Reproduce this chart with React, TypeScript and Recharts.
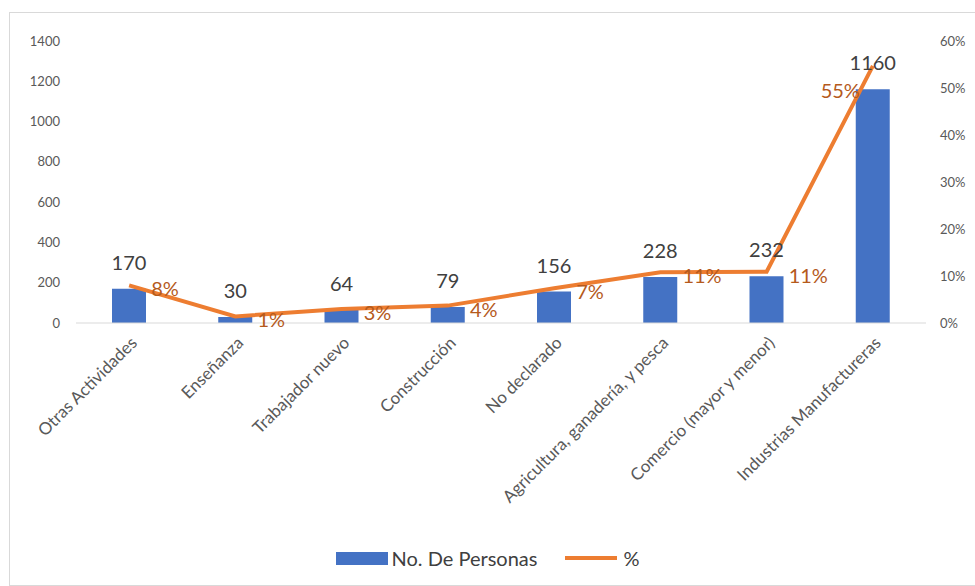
import { ComposedChart, Bar, Line, XAxis, YAxis, Legend, LabelList } from "recharts"

// sectores de actividad, personas y porcentaje
const categorias = [
  "Otras Actividades",
  "Enseñanza",
  "Trabajador nuevo",
  "Construcción",
  "No declarado",
  "Agricultura, ganadería, y pesca",
  "Comercio (mayor y menor)",
  "Industrias Manufactureras",
]
const personas = [170, 30, 64, 79, 156, 228, 232, 1160]
const porcentaje = [8.0, 1.4, 3.0, 3.7, 7.4, 10.8, 10.9, 54.7]
const pctEtiquetas = ["8%", "1%", "3%", "4%", "7%", "11%", "11%", "55%"]
const ticksIzq = [0, 200, 400, 600, 800, 1000, 1200, 1400]
const ticksDer = [0, 10, 20, 30, 40, 50, 60]

const data = categorias.map((c, i) => ({
  cat: c,
  personas: personas[i],
  pct: porcentaje[i],
  pctLabel: pctEtiquetas[i],
}))

const FONT = "Lato, 'Open Sans', sans-serif"
const AZUL = "#4472C4"
const NARANJA = "#ED7D31"

const TickX = ({ x, y, payload }: any) => (
  <text
    x={x + 9}
    y={y + 13}
    transform={`rotate(-45, ${x + 9}, ${y + 13})`}
    textAnchor="end"
    fontSize={17}
    fill="#595959"
    fontFamily={FONT}
  >
    {payload.value}
  </text>
)

const PctLabel = (props: any) => {
  const { x, y, index } = props
  const last = index === data.length - 1
  return (
    <text
      x={last ? x - 13 : x + 22}
      y={last ? y + 24 : y + 3}
      dominantBaseline="central"
      textAnchor={last ? "end" : "start"}
      fontSize={20}
      fill="#B55A1C"
      fontFamily={FONT}
    >
      {pctEtiquetas[index]}
    </text>
  )
}

const Leyenda = () => (
  <div
    style={{
      display: "flex",
      justifyContent: "center",
      alignItems: "center",
      fontFamily: FONT,
      fontSize: 20,
      color: "#404040",
    }}
  >
    <span style={{ display: "inline-block", width: 52, height: 13, background: AZUL, marginRight: 4 }} />
    <span>No. De Personas</span>
    <span style={{ display: "inline-block", width: 52, height: 4, background: NARANJA, marginLeft: 28, marginRight: 6 }} />
    <span>%</span>
  </div>
)

export default function App() {
  return (
    <div style={{ position: "absolute", left: 0, top: 0, width: 975, height: 586, background: "#fff" }}>
      <div
        style={{
          position: "absolute",
          left: 9,
          top: 12,
          width: 975,
          height: 572,
          border: "1px solid #D9D9D9",
        }}
      />
      <ComposedChart
        width={975}
        height={586}
        data={data}
        margin={{ top: 41, right: 0, bottom: 39, left: 0 }}
        style={{ position: "absolute", left: 0, top: 0 }}
      >
        <XAxis
          dataKey="cat"
          interval={0}
          height={200}
          tick={<TickX />}
          tickLine={false}
          axisLine={{ stroke: "#D9D9D9" }}
        />
        <YAxis
          yAxisId="left"
          width={76}
          domain={[0, 1400]}
          ticks={ticksIzq}
          tickLine={false}
          axisLine={false}
          tickSize={0}
          tickMargin={16}
          tick={{ fontSize: 13, fill: "#595959", fontFamily: FONT }}
        />
        <YAxis
          yAxisId="right"
          orientation="right"
          width={49}
          domain={[0, 60]}
          ticks={ticksDer}
          tickFormatter={(v: number) => `${v}%`}
          tickLine={false}
          axisLine={false}
          tickSize={0}
          tickMargin={14}
          tick={{ fontSize: 13, fill: "#595959", fontFamily: FONT }}
        />
        <Bar yAxisId="left" dataKey="personas" fill={AZUL} barSize={34} isAnimationActive={false}>
          <LabelList
            dataKey="personas"
            position="top"
            offset={19}
            fontSize={20}
            fill="#404040"
            fontFamily={FONT}
          />
        </Bar>
        <Line
          yAxisId="right"
          dataKey="pct"
          type="linear"
          stroke={NARANJA}
          strokeWidth={4}
          dot={false}
          isAnimationActive={false}
        >
          <LabelList dataKey="pctLabel" content={<PctLabel />} />
        </Line>
        <Legend
          content={<Leyenda />}
          verticalAlign="bottom"
          wrapperStyle={{ bottom: 16 }}
        />
      </ComposedChart>
    </div>
  )
}
